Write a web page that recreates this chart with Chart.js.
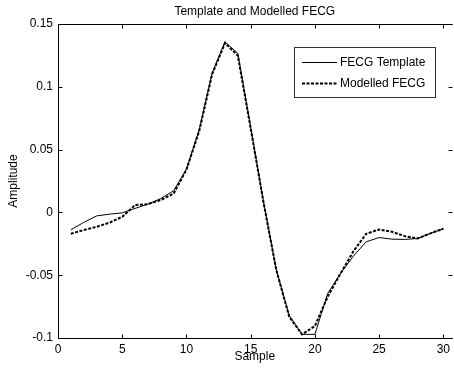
<!DOCTYPE html>
<html>
<head>
<meta charset="utf-8">
<script src="https://cdn.jsdelivr.net/npm/chart.js@4/dist/chart.umd.min.js"></script>
<style>
    html, body { margin: 0; padding: 0; background: #fff; }
    #wrap { width: 454px; height: 374px; }
</style>
</head>
<body>
<div id="wrap"><canvas id="fecg-chart"></canvas></div>
<script>
const samples = [1, 2, 3, 4, 5, 6, 7, 8, 9, 10, 11, 12, 13, 14, 15,
    16, 17, 18, 19, 20, 21, 22, 23, 24, 25, 26, 27, 28, 29, 30];
const templateValues = [-0.0138, -0.0080, -0.0028, -0.0014, -0.0004, 0.0032, 0.0066, 0.0110, 0.0172, 0.0345,
    0.0660, 0.1110, 0.1358, 0.1266, 0.0680, 0.0085, -0.0460, -0.0820, -0.0971, -0.0971,
    -0.0645, -0.0486, -0.0348, -0.0234, -0.0200, -0.0213, -0.0215, -0.0208, -0.0167, -0.0130];
const modelledValues = [-0.0170, -0.0140, -0.0115, -0.0082, -0.0035, 0.0058, 0.0066, 0.0098, 0.0150, 0.0340,
    0.0650, 0.1100, 0.1348, 0.1248, 0.0670, 0.0080, -0.0460, -0.0830, -0.0971, -0.0905,
    -0.0670, -0.0486, -0.0310, -0.0170, -0.0136, -0.0154, -0.0189, -0.0207, -0.0167, -0.0130];
const xTicks = [0, 5, 10, 15, 20, 25, 30];
const yTicks = [-0.1, -0.05, 0, 0.05, 0.1, 0.15];

const FONT = 'Liberation Sans, Arial, sans-serif';

function toPoints(values) {
    return samples.map((s, i) => ({x: s, y: values[i]}));
}

// MATLAB-like short number labels: 0.1, 0.05, -0.05 ...
function shortLabel(value) {
    return String(Number(value.toPrecision(6)));
}

/**
 * Frame, inner ticks, title, axis titles and legend, MATLAB style.
 */
const matlabFrame = {
    id: 'matlabFrame',
    afterDraw(chart) {
        const ctx = chart.ctx;
        const a = chart.chartArea;
        const xs = chart.scales.x, ys = chart.scales.y;
        const L = Math.round(a.left) + 0.5, R = Math.round(a.right) - 0.5;
        const T = Math.round(a.top) + 0.5, B = Math.round(a.bottom) + 0.5;
        ctx.save();
        ctx.strokeStyle = '#000';
        ctx.lineWidth = 1;
        ctx.beginPath();
        ctx.moveTo(R + 1, T); ctx.lineTo(L, T); ctx.lineTo(L, B); ctx.lineTo(R + 1, B);
        ctx.stroke();

        // inner ticks
        ctx.beginPath();
        xTicks.forEach(v => {
            const px = Math.round(xs.getPixelForValue(v)) + 0.5;
            ctx.moveTo(px, B); ctx.lineTo(px, B - 4);
            ctx.moveTo(px, T); ctx.lineTo(px, T + 4);
        });
        yTicks.forEach(v => {
            const py = Math.round(ys.getPixelForValue(v)) + 0.5;
            ctx.moveTo(L, py); ctx.lineTo(L + 4, py);
            ctx.moveTo(R + 1, py); ctx.lineTo(R - 3, py);
        });
        ctx.stroke();

        // titles
        ctx.fillStyle = '#000';
        ctx.font = '12px ' + FONT;
        ctx.textAlign = 'center';
        ctx.textBaseline = 'middle';
        ctx.fillText('Template and Modelled FECG', (a.left + a.right) / 2, 12);
        ctx.fillText('Sample', (a.left + a.right) / 2, 357);
        ctx.save();
        ctx.translate(14, (a.top + a.bottom) / 2);
        ctx.rotate(-Math.PI / 2);
        ctx.fillText('Amplitude', 0, 0);
        ctx.restore();

        // legend
        ctx.fillStyle = '#fff';
        ctx.fillRect(294.5, 47.5, 141, 50);
        ctx.strokeStyle = '#333';
        ctx.strokeRect(294.5, 47.5, 141, 50);
        ctx.textAlign = 'left';
        chart.data.datasets.forEach((ds, i) => {
            const y = 62.5 + i * 21;
            ctx.strokeStyle = '#000';
            ctx.lineWidth = ds.borderWidth;
            ctx.setLineDash(ds.borderDash || []);
            ctx.beginPath();
            ctx.moveTo(302, y); ctx.lineTo(337, y);
            ctx.stroke();
            ctx.setLineDash([]);
            ctx.fillStyle = '#000';
            ctx.fillText(ds.label, 340, y);
        });
        ctx.restore();
    }
};

new Chart(document.getElementById('fecg-chart').getContext('2d'), {
    type: 'line',
    data: {
        datasets: [{
            label: 'FECG Template',
            data: toPoints(templateValues),
            borderColor: '#000',
            borderWidth: 1,
            pointRadius: 0,
            order: 1
        }, {
            label: 'Modelled FECG',
            data: toPoints(modelledValues),
            borderColor: '#000',
            borderWidth: 2,
            borderDash: [3, 1.5],
            pointRadius: 0,
            order: 0
        }]
    },
    options: {
        responsive: true,
        maintainAspectRatio: false,
        animation: false,
        layout: {
            padding: {top: 24, right: 0, left: 0, bottom: 0}
        },
        plugins: {
            legend: {display: false},
            tooltip: {enabled: false},
            title: {display: false}
        },
        scales: {
            x: {
                type: 'linear',
                min: 0,
                max: 30.64,
                afterBuildTicks: scale => { scale.ticks = xTicks.map(v => ({value: v})); },
                afterFit: scale => { scale.height = 36; },
                grid: {display: false, drawTicks: false},
                border: {display: false},
                ticks: {
                    color: '#000',
                    padding: 4,
                    maxRotation: 0,
                    font: {family: FONT, size: 12},
                    callback: shortLabel
                }
            },
            y: {
                min: -0.1,
                max: 0.15,
                afterBuildTicks: scale => { scale.ticks = yTicks.map(v => ({value: v})); },
                afterFit: scale => { scale.width = 58; },
                grid: {display: false, drawTicks: false},
                border: {display: false},
                ticks: {
                    color: '#000',
                    padding: 5,
                    font: {family: FONT, size: 12},
                    callback: shortLabel
                }
            }
        }
    },
    plugins: [matlabFrame]
});
</script>
</body>
</html>
